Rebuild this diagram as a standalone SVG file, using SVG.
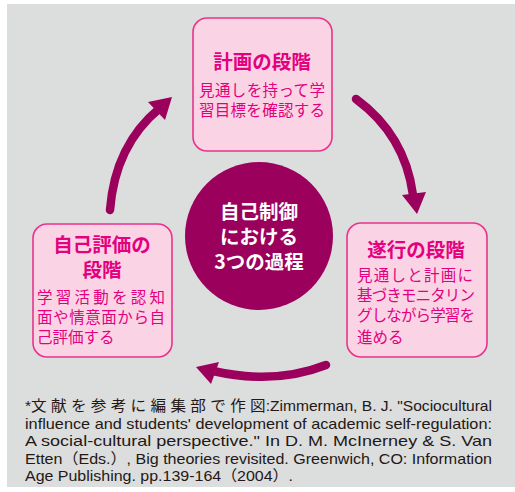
<svg xmlns="http://www.w3.org/2000/svg" width="515" height="492" viewBox="0 0 515 492">
<style>
.box{fill:#fad4e4;stroke:#e8338c;stroke-width:1.6}
.ttl{font-family:"Noto Sans CJK JP",sans-serif;font-weight:bold;fill:#e4007f;font-size:19.5px;text-anchor:middle}
.bd{font-family:"Noto Sans CJK JP",sans-serif;fill:#e4007f;font-size:15.5px}
.ctr{font-family:"Noto Sans CJK JP",sans-serif;font-weight:bold;fill:#ffffff;font-size:19.5px;text-anchor:middle}
.arr{fill:none;stroke:#9c005d;stroke-width:8.5;stroke-linecap:round}
.hd{fill:#9c005d}
.note{font-family:"Liberation Sans","Noto Sans CJK JP",sans-serif;font-size:15px;fill:#231815}
</style>
<rect x="7" y="4" width="508" height="483" fill="#dcdddd"/>
<g id="connectors">
<path class="arr" d="M110,210 Q115,145 160,108"/>
<polygon class="hd" points="172,97 148,102 165,120"/>
<path class="arr" d="M356,99 Q405,135 413,195"/>
<polygon class="hd" points="417,214 402,195 426,192"/>
<path class="arr" d="M326,365 Q275,385 213,371"/>
<polygon class="hd" points="196,367 219,362 211,384"/>
</g>
<g id="center">
<circle cx="259" cy="236" r="74" fill="#9c005d"/>
<text class="ctr" x="259" y="219">自己制御</text>
<text class="ctr" x="259" y="244">における</text>
<text class="ctr" x="259" y="269">3つの過程</text>
</g>
<g id="plan">
<rect class="box" x="193" y="18" width="139" height="133" rx="14"/>
<text class="ttl" x="262" y="69">計画の段階</text>
<text class="bd" x="199" y="96" textLength="126" lengthAdjust="spacing">見通しを持って学</text>
<text class="bd" x="199" y="116" textLength="126" lengthAdjust="spacing">習目標を確認する</text>
</g>
<g id="perform">
<rect class="box" x="347" y="223" width="140" height="134" rx="14"/>
<text class="ttl" x="416" y="257">遂行の段階</text>
<text class="bd" x="357" y="281" textLength="116" lengthAdjust="spacing">見通しと計画に</text>
<text class="bd" x="357" y="301" textLength="118" lengthAdjust="spacing">基づきモニタリン</text>
<text class="bd" x="357" y="321" textLength="118" lengthAdjust="spacing">グしながら学習を</text>
<text class="bd" x="357" y="343">進める</text>
</g>
<g id="reflect">
<rect class="box" x="33" y="224" width="139" height="133" rx="14"/>
<text class="ttl" x="102" y="252">自己評価の</text>
<text class="ttl" x="102" y="277">段階</text>
<text class="bd" x="37" y="303" textLength="128" lengthAdjust="spacing">学習活動を認知</text>
<text class="bd" x="37" y="323" textLength="128" lengthAdjust="spacing">面や情意面から自</text>
<text class="bd" x="37" y="343">己評価する</text>
</g>
<g id="note">
<text class="note" x="25" y="411" textLength="467" lengthAdjust="spacingAndGlyphs">*文 献 を 参 考 に 編 集 部 で 作 図:Zimmerman, B. J. "Sociocultural</text>
<text class="note" x="25" y="429" textLength="467" lengthAdjust="spacingAndGlyphs">influence and students' development of academic self-regulation:</text>
<text class="note" x="25" y="446" textLength="467" lengthAdjust="spacingAndGlyphs">A social-cultural perspective." In D. M. McInerney &amp; S. Van</text>
<text class="note" x="25" y="464" textLength="467" lengthAdjust="spacingAndGlyphs">Etten（Eds.）, Big theories revisited. Greenwich, CO: Information</text>
<text class="note" x="25" y="481" textLength="268" lengthAdjust="spacingAndGlyphs">Age Publishing. pp.139-164（2004）.</text>
</g>
</svg>
